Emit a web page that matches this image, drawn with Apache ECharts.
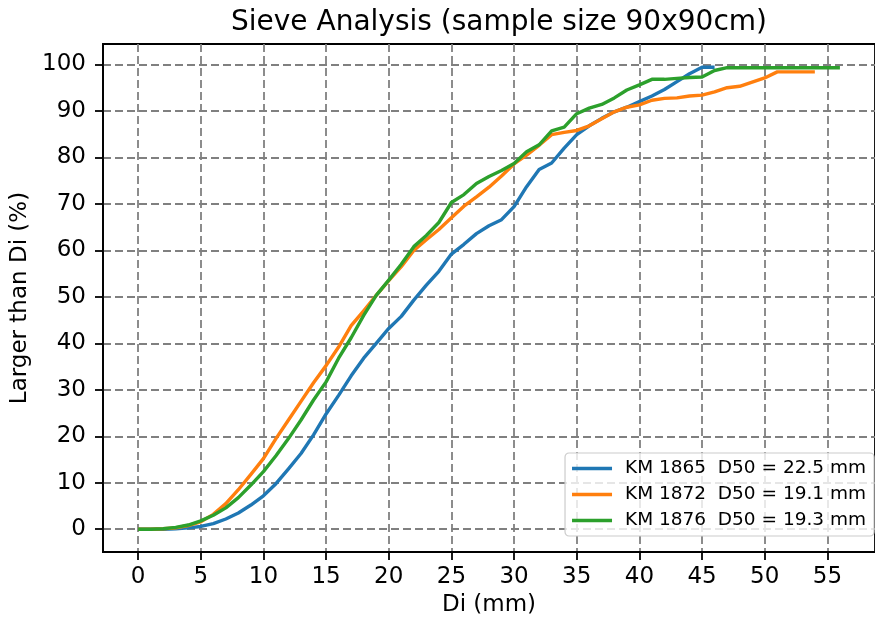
<!DOCTYPE html>
<html>
<head>
<meta charset="utf-8">
<script src="https://cdn.jsdelivr.net/npm/echarts@6/dist/echarts.min.js"></script>
<style>
  html, body { margin: 0; padding: 0; background: #fff; }
  #chart { width: 875px; height: 628px; }
</style>
</head>
<body>
<div id="chart"></div>
<script>
// ---- data ----
const di = [0,1,2,3,4,5,6,7,8,9,10,11,12,13,14,15,16,17,18,19,20,21,22,23,24,25,26,27,28,29,30,31,32,33,34,35,36,37,38,39,40,41,42,43,44,45,46,47,48,49,50,51,52,53,54,55,56];

const km1865 = [0,0,0,0.1,0.3,0.6,1.2,2.2,3.5,5.2,7.2,9.8,13,16.3,20.3,24.8,28.8,33,36.8,40,43.2,45.8,49.3,52.5,55.5,59.2,61.3,63.6,65.3,66.6,69.4,73.7,77.4,78.8,82,84.9,86.8,88.4,89.8,90.8,92,93.2,94.6,96.3,98,99.4,99.4];
const km1872 = [0,0,0.1,0.3,0.8,1.6,3.2,5.5,8.5,11.8,15.2,19.5,23.5,27.5,31.5,35.2,39.2,43.8,47,50.3,53.5,56.5,60,62.3,64.5,67,69.5,71.5,73.6,76,78.6,80.5,82.6,84.9,85.4,85.8,86.8,88.3,89.8,90.8,91.3,92.3,92.7,92.8,93.2,93.4,94.1,95,95.3,96.2,97.1,98.4,98.4,98.4,98.4];
const km1876 = [0,0,0.1,0.4,0.9,1.8,3,4.6,6.8,9.5,12.4,15.8,19.5,23.5,27.8,31.7,36.8,41.2,46,50.3,53.6,57,60.8,63.2,66,70.3,72,74.4,75.9,77.2,78.7,81.2,82.7,85.7,86.5,89.4,90.6,91.4,92.8,94.5,95.6,96.8,96.8,97,97.2,97.3,98.7,99.3,99.3,99.3,99.3,99.3,99.3,99.3,99.3,99.3,99.3];

const seriesNames = ['KM 1865  D50 = 22.5 mm', 'KM 1872  D50 = 19.1 mm', 'KM 1876  D50 = 19.3 mm'];
const seriesColors = ['#1f77b4', '#ff7f0e', '#2ca02c'];
const xTicks = [0,5,10,15,20,25,30,35,40,45,50,55];
const yTicks = [0,10,20,30,40,50,60,70,80,90,100];

const titleText = 'Sieve Analysis (sample size 90x90cm)';
const xName = 'Di (mm)';
const yName = 'Larger than Di (%)';

// ---- chart ----
const FONT = 'DejaVu Sans';
const chart = echarts.init(document.getElementById('chart'), null, { renderer: 'canvas' });

function pairs(ys) { return ys.map((v, i) => [di[i], v]); }
const allY = [km1865, km1872, km1876];

const gridLine = { show: true, lineStyle: { color: '#808080', width: 1.8, type: [8, 4] } };

const option = {
  backgroundColor: '#ffffff',
  animation: false,
  title: {
    text: titleText,
    left: 226, top: 4,
    textStyle: { fontFamily: FONT, fontSize: 28, fontWeight: 'normal', color: '#000' }
  },
  grid: {
    left: 103, top: 44, width: 779, height: 508,
    show: true, borderColor: '#000', borderWidth: 1.8, backgroundColor: 'transparent'
  },
  legend: {
    orient: 'vertical',
    right: 1, top: 453,
    padding: [6, 8, 6, 7],
    itemGap: 7,
    itemWidth: 40, itemHeight: 3.5,
    icon: 'rect',
    backgroundColor: 'rgba(255,255,255,0.8)',
    borderColor: '#cccccc', borderWidth: 1.2, borderRadius: 4,
    textStyle: { fontFamily: FONT, fontSize: 18.5, color: '#000', padding: [0, 0, 0, 8] },
    data: seriesNames
  },
  xAxis: {
    type: 'value', min: -2.8, max: 58.8,
    name: xName, nameLocation: 'middle', nameGap: 42,
    nameTextStyle: { fontFamily: FONT, fontSize: 23, color: '#000' },
    axisLine: { show: true, onZero: false, lineStyle: { color: '#000', width: 1.8 } },
    axisTick: { show: true, inside: false, length: 8, customValues: xTicks, lineStyle: { color: '#000', width: 1.8 } },
    axisLabel: { show: true, customValues: xTicks, margin: 14, fontFamily: FONT, fontSize: 23, color: '#000' },
    splitLine: gridLine
  },
  yAxis: {
    type: 'value', min: -4.9, max: 104.4,
    name: yName, nameLocation: 'middle', nameGap: 70,
    nameTextStyle: { fontFamily: FONT, fontSize: 23, color: '#000' },
    axisLine: { show: true, onZero: false, lineStyle: { color: '#000', width: 1.8 } },
    axisTick: { show: true, inside: false, length: 8, customValues: yTicks, lineStyle: { color: '#000', width: 1.8 } },
    axisLabel: { show: true, customValues: yTicks, margin: 17, fontFamily: FONT, fontSize: 23, color: '#000' },
    splitLine: gridLine
  },
  series: seriesNames.map((name, k) => ({
    name: name,
    type: 'line',
    data: pairs(allY[k]),
    showSymbol: false,
    symbol: 'none',
    color: seriesColors[k],
    lineStyle: { color: seriesColors[k], width: 3.4, join: 'round', cap: 'butt' },
    z: 3 + k
  }))
};

chart.setOption(option);
</script>
</body>
</html>
